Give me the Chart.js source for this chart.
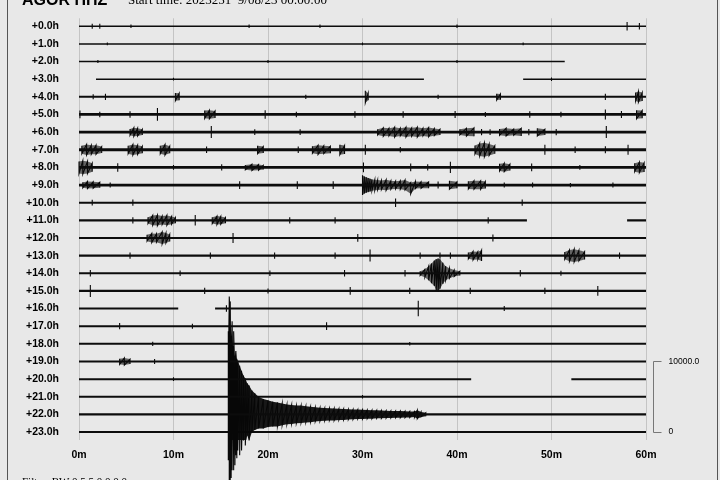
<!DOCTYPE html>
<html><head><meta charset="utf-8">
<script src="https://cdn.jsdelivr.net/npm/chart.js@4.4.0/dist/chart.umd.min.js"></script>
<style>html,body{margin:0;padding:0;background:#e8e8e8;overflow:hidden}canvas{display:block}</style>
</head><body><canvas id="c" width="720" height="480"></canvas>
<script>
const stationTitle = 'AGOR HHZ';
const startTimeText = 'Start time: 2023251  9/08/23 00:00:00';
const filterText = 'Filter: BW 0.5 5.0 0 0 0';
const hourLabels = ['+0.0h','+1.0h','+2.0h','+3.0h','+4.0h','+5.0h','+6.0h','+7.0h','+8.0h','+9.0h','+10.0h','+11.0h',
  '+12.0h','+13.0h','+14.0h','+15.0h','+16.0h','+17.0h','+18.0h','+19.0h','+20.0h','+21.0h','+22.0h','+23.0h'];
const minuteTicks = [0,10,20,30,40,50,60];
const countsPerRow = 2500;
const scaleBarCounts = [0, 10000];
const scaleBarLabels = ['0', '10000.0'];

// recording spans per hour row, in minutes
const traceSpans = [
  [[0,60]],[[0,60]],[[0,51.4]],[[1.8,36.5],[47.0,60]],[[0,60]],[[0,60]],[[0,60]],[[0,60]],
  [[0,60]],[[0,60]],[[0,60]],[[0,47.4],[58.0,60]],[[0,60]],[[0,60]],[[0,60]],[[0,60]],
  [[0,10.5],[14.4,60]],[[0,60]],[[0,60]],[[0,60]],[[0,41.5],[52.1,60]],[[0,60]],[[0,60]],[[0,60]]
];

// wave envelope samples per row: [minute, up counts, down counts (optional)]
const traceEvents = [
  [[1.4,350],[2.2,350],[5.5,250],[18,250],[25.5,250],[40,250],[58.0,600],[59.3,450]],
  [[3,200],[30,200],[47,200]],
  [[2,200],[20,200],[40,200]],
  [[10,200],[50,250]],
  [[1.5,350],[2.8,450],[10.2,550],[10.6,500],[24,300],[30.3,850],[30.6,500],[38,300],[44.2,450],[44.6,400],[55.7,450],[58.9,600],[59.2,750],[59.6,600]],
  [[0.1,550],[2.2,400],[5.4,450],[8.3,900],[13.3,550],[13.8,600],[14.4,500],[19.7,600],[23,400],[29.2,450],[34.3,450],[39.8,500],[43,350],[47.7,450],[51,400],[55.7,700],[57.4,500],[59.0,600],[59.6,550]],
  [[5.4,450],[5.8,600],[6.2,550],[6.7,400],[14.0,850],[18.6,400],[23.4,400],[31.6,400],[32.2,600],[32.8,550],[33.4,700],[34.0,550],[34.6,700],[35.2,600],[35.8,700],[36.4,550],[37.0,650],[37.6,500],[38.2,400],[40.3,400],[41.0,550],[41.8,600],[42.6,450],[43.5,400],[44.5,450],[45.2,550],[46.0,450],[46.8,550],[47.6,450],[48.5,550],[49.3,400],[50.5,450],[55.8,850]],
  [[0.3,550],[0.8,750],[1.3,650],[1.8,650],[2.4,450],[5.2,550],[5.7,750],[6.2,650],[6.7,500],[8.6,550],[9.1,750],[9.6,500],[13.5,450],[18.9,550],[19.5,450],[23.2,450],[24.7,500],[25.3,650],[25.9,550],[26.6,500],[27.6,700],[28.1,600],[30.3,700],[34,400],[41.9,600],[42.4,900],[42.9,1000],[43.4,800],[44.0,550],[49.3,700],[52.5,450],[55.7,500],[58.1,700]],
  [[0.0,850],[0.4,950],[0.9,850],[1.4,600],[4.1,600],[10,350],[15.1,450],[17.6,350],[18.3,450],[19.0,400],[19.5,300],[30.1,700],[35.1,550],[36.9,450],[39.3,800],[44.5,500],[45.0,600],[45.6,450],[47.9,550],[53,350],[58.8,600],[59.3,750],[59.8,650]],
  [[0.4,400],[0.9,500],[1.5,450],[2.2,400],[3.3,350],[17.0,550],[23.1,550],[26.9,550],[30.0,1400],[30.2,1200],[30.4,1100],[30.6,1000],[30.8,900],[31.0,800],[31.3,750],[31.6,700],[32.0,650],[32.5,750],[33.0,600],[33.5,550],[34.0,600],[34.5,700],[35.1,350,1250],[35.6,500],[36.2,450],[37.0,450],[38.0,500],[39.2,600],[40.0,450],[41.2,550],[41.8,600],[42.5,600],[43.0,500],[45,350],[48,350],[52,300],[56.5,350]],
  [[1.4,400],[5.7,450],[33.5,600],[46.9,450]],
  [[5.7,450],[7.3,450],[7.8,700],[8.3,750],[8.8,600],[9.3,700],[9.8,550],[10.2,400],[12.3,750],[14.1,450],[14.6,600],[15.0,550],[15.5,400],[22.3,450],[27.1,450],[43.3,450]],
  [[7.2,450],[7.7,650],[8.2,600],[8.8,850],[9.2,700],[9.6,500],[16.3,700],[29.5,550],[43.8,500]],
  [[5.4,450],[13.9,450],[20.7,450],[27.1,450],[30.8,850],[36.1,450],[38.2,450],[39.3,450],[41.2,450],[41.7,600],[42.2,550],[42.6,750],[51.4,500],[51.9,800],[52.4,900],[52.9,750],[53.5,550],[57.2,450]],
  [[1.2,450],[10.7,400],[20.2,400],[28.1,450],[34.5,450],[36.1,300],[36.6,550],[37.0,1000],[37.3,1400],[37.6,1800],[37.8,2000,2400],[38.0,2100,2600],[38.2,2000,2200],[38.5,1500],[38.8,1000],[39.2,700],[39.7,450],[40.3,300],[46.7,450],[51,350]],
  [[1.2,850],[13.3,450],[20,350],[28.7,550],[35.0,450],[41.4,450],[49.3,450],[54.9,700]],
  [[15.6,450],[35.9,1100],[45,350]],
  [[4.3,450],[12,350],[26.2,550]],
  [[7.8,300],[35,250]],
  [[4.3,400],[4.8,500],[5.4,350],[8.0,350],[16.1,450]],
  [[10,250]],
  [[30,250]],
  [],
  []
];

// the large earthquake on the +22.0h row: [minute, up counts, down counts]
const quakeRow = 22;
const quakeEnvelope = [
  [15.8,11800,6500],[15.9,16700,10500],[16.0,16000,9800],[16.1,11100,9000],[16.2,13200,7900],[16.3,9700,7900],
  [16.4,11800,6700],[16.5,8300,7200],[16.6,9000,5800],[16.7,7900,6200],[16.8,7600,5100],[17.0,6900,5800],
  [17.2,6200,5100],[17.4,5500,3700],[17.6,5100,4400],[17.8,4400,3000],[18.0,4100,3700],[18.3,3400,2500],
  [18.6,3000,2200],[19.0,2500,2000],[19.5,2200,2000],[20.0,2000,1800],[20.5,1800,1700],[21.0,1700,1700],
  [21.5,1550,1550],[22.0,1400,1400],[22.5,1350,1350],[23.0,1250,1250],[23.5,1250,1200],[24.0,1150,1150],
  [24.5,1100,1100],[25.0,1000,1000],[25.5,950,950],[26.0,900,900],[26.5,880,850],[27.0,850,850],[27.5,800,800],
  [28.0,780,780],[28.5,720,720],[29.0,700,700],[29.5,680,650],[30.0,650,650],[30.5,620,600],[31.0,600,600],
  [31.5,580,560],[32.0,550,550],[32.5,520,520],[33.0,500,500],[33.5,490,480],[34.0,480,480],[34.5,450,450],
  [35.0,420,420],[35.5,400,380],[35.8,600,600],[36.2,350,350],[36.7,250,250]
];

const lineWidths = [1.5,1.5,1.5,1.5,1.9,2.8,2.7,2.8,2.8,2.7,2.1,2.1,2.1,2.2,2.2,2.2,2.1,2.1,2.0,2.1,2.0,2.1,2.1,2.1];

const allEvents = traceEvents.map((ev, r) => r === quakeRow ? quakeEnvelope.concat(ev) : ev);

const datasets = [];
hourLabels.forEach((lab, r) => {
  const base = [];
  traceSpans[r].forEach((sp, i) => {
    if (i) base.push({x: (traceSpans[r][i-1][1] + sp[0]) / 2, y: null});
    base.push({x: sp[0], y: r}, {x: sp[1], y: r});
  });
  datasets.push({data: base, borderColor: '#0c0c0c', borderWidth: lineWidths[r], pointRadius: 0, fill: false, spanGaps: false, borderCapStyle: 'butt'});

  const ev = allEvents[r].slice().sort((a, b) => a[0] - b[0]);
  const zz = [], up = [], dn = [];
  ev.forEach((s, i) => {
    const u = s[1], d = s.length > 2 ? s[2] : s[1];
    if (i && s[0] - ev[i-1][0] > 0.8) {
      const mid = (s[0] + ev[i-1][0]) / 2;
      zz.push({x: mid, y: null}); up.push({x: mid, y: null}); dn.push({x: mid, y: null});
    }
    zz.push({x: s[0], y: r - u / countsPerRow}, {x: s[0], y: r + d / countsPerRow});
    up.push({x: s[0], y: r - u / countsPerRow});
    dn.push({x: s[0], y: r + d / countsPerRow});
  });
  if (ev.length) {
    const fillCol = r === quakeRow ? 'rgba(8,8,8,0.93)' : 'rgba(10,10,10,0.6)';
    datasets.push({data: up, borderWidth: 0, pointRadius: 0, fill: {value: r}, backgroundColor: fillCol, spanGaps: false, clip: false});
    datasets.push({data: dn, borderWidth: 0, pointRadius: 0, fill: {value: r}, backgroundColor: fillCol, spanGaps: false, clip: false});
    datasets.push({data: zz, borderColor: '#080808', borderWidth: 1.1, pointRadius: 0, fill: false, spanGaps: false, clip: false});
  }
});

const decor = {
  id: 'decor',
  beforeDraw(chart) {
    const c = chart.ctx;
    c.save(); c.fillStyle = '#e8e8e8'; c.fillRect(0, 0, chart.width, chart.height); c.restore();
  },
  afterDraw(chart) {
    const c = chart.ctx, xs = chart.scales.x, ys = chart.scales.y;
    c.save();
    c.strokeStyle = '#555'; c.lineWidth = 1;
    c.beginPath(); c.moveTo(7.5, 0); c.lineTo(7.5, 480); c.moveTo(717.5, 0); c.lineTo(717.5, 480); c.stroke();
    c.fillStyle = '#000'; c.textBaseline = 'alphabetic'; c.textAlign = 'left';
    c.font = "bold 16px 'Liberation Sans', Arial, sans-serif";
    c.fillText(stationTitle, 22, 5);
    c.font = "13px 'Liberation Serif', 'Times New Roman', serif";
    c.fillText(startTimeText, 128, 4);
    c.font = "11px 'Liberation Serif', 'Times New Roman', serif";
    c.fillText(filterText, 22, 485);
    // amplitude scale bar
    const bx = Math.round(xs.getPixelForValue(60)) + 7.5;
    const yb = ys.getPixelForValue(23 - scaleBarCounts[0] / countsPerRow);
    const yt = ys.getPixelForValue(23 - scaleBarCounts[1] / countsPerRow);
    c.strokeStyle = '#777';
    c.beginPath(); c.moveTo(bx + 8, Math.round(yt) + 0.5); c.lineTo(bx, Math.round(yt) + 0.5); c.lineTo(bx, Math.round(yb) + 0.5); c.lineTo(bx + 8, Math.round(yb) + 0.5); c.stroke();
    c.font = "8.5px 'Liberation Sans', Arial, sans-serif"; c.textBaseline = 'middle';
    c.fillText(scaleBarLabels[1], bx + 15, yt);
    c.fillText(scaleBarLabels[0], bx + 15, yb);
    c.restore();
  }
};

const tickFont = {family: "'Liberation Sans', Arial, sans-serif", size: 10.5, weight: 'bold'};
new Chart(document.getElementById('c'), {
  type: 'line',
  data: {datasets},
  options: {
    responsive: false, animation: false, devicePixelRatio: 1,
    layout: {padding: {top: 15, right: 74, left: 0, bottom: 0}},
    plugins: {legend: {display: false}, tooltip: {enabled: false}},
    elements: {line: {tension: 0}},
    scales: {
      x: {
        type: 'linear', min: 0, max: 60,
        afterBuildTicks: s => { s.ticks = minuteTicks.map(v => ({value: v})); },
        afterFit: s => { s.height = 40; },
        ticks: {callback: v => v + 'm', font: tickFont, color: '#000', padding: 9, maxRotation: 0},
        grid: {color: '#c4c4c4', lineWidth: 1, drawTicks: false},
        border: {display: false}
      },
      y: {
        type: 'linear', reverse: true, min: -0.45, max: 23.45,
        afterBuildTicks: s => { s.ticks = hourLabels.map((_, i) => ({value: i})); },
        afterFit: s => { s.width = 79; },
        ticks: {callback: (v, i) => hourLabels[i], font: tickFont, color: '#000', padding: 12, autoSkip: false},
        grid: {display: false},
        border: {display: false}
      }
    }
  },
  plugins: [decor]
});
</script></body></html>
